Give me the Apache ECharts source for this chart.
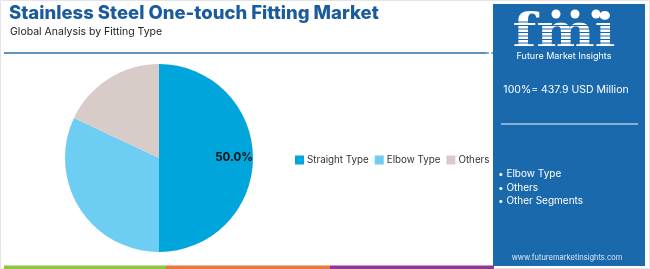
<!DOCTYPE html>
<html><head><meta charset="utf-8">
<script src="https://cdn.jsdelivr.net/npm/echarts@6/dist/echarts.min.js"></script>
<style>html,body{margin:0;padding:0;background:#fff}#c{width:650px;height:269px}</style>
</head><body><div id="c"></div>
<script>
const categories = ['Straight Type', 'Elbow Type', 'Others'];
const values = [50.0, 32.0, 18.0];
const colors = ['#00A5DC', '#6DCDF2', '#D7CCC8'];
const titleText = 'Stainless Steel One-touch Fitting Market';
const subtitleText = 'Global Analysis by Fitting Type';
const totalText = '100%= 437.9 USD Million';
const segments = ['Elbow Type', 'Others', 'Other Segments'];

const chart = echarts.init(document.getElementById('c'), null, {renderer: 'canvas'});
const panel = '#1B69AD';
const FONT = 'Inter, "Open Sans", sans-serif';

const stripes = [];
for (let y = 22; y <= 51; y += 3.5) {
  stripes.push({type: 'line', shape: {x1: 505, y1: y, x2: 630, y2: y}, style: {stroke: panel, lineWidth: 1.2}, z: 12});
}

const option = {
  animation: false,
  title: [
    {text: titleText, left: 9, top: 4, padding: 0, textStyle: {fontFamily: FONT, fontWeight: 800, fontSize: 18.5, color: '#1A5B9C'}},
    {text: subtitleText, left: 10, top: 26, padding: 0, textStyle: {fontFamily: FONT, fontWeight: 400, fontSize: 10.5, color: '#222'}}
  ],
  color: colors,
  legend: {
    data: categories, left: 295, top: 155, padding: 0, icon: 'rect', itemWidth: 9, itemHeight: 9, itemGap: 6,
    textStyle: {fontFamily: FONT, fontSize: 9.8, color: '#333', padding: [0, 0, 0, -2]}
  },
  series: [{
    type: 'pie', center: [159, 158], radius: [0, 94], startAngle: 90, clockwise: true,
    data: categories.map((n, i) => ({name: n, value: values[i]})),
    label: {
      show: true, position: 'inside', fontFamily: FONT, fontWeight: 700, fontSize: 11.5, color: '#111',
      padding: [0, 0, 0, 50],
      formatter: p => p.dataIndex === 0 ? p.value.toFixed(1) + '%' : ''
    },
    labelLine: {show: false},
    itemStyle: {borderWidth: 0},
    emphasis: {disabled: true}
  }],
  graphic: [
    {type: 'rect', shape: {x: 0.5, y: 0.5, width: 649, height: 268}, style: {fill: 'none', stroke: '#e4e4e4', lineWidth: 1}, z: 0},
    {type: 'line', shape: {x1: 4, y1: 53, x2: 486, y2: 53}, style: {stroke: '#5F94BC', lineWidth: 2}, z: 1},
    {type: 'line', shape: {x1: 486, y1: 53, x2: 493, y2: 53}, style: {stroke: '#5F94BC', lineWidth: 1.5, lineDash: [3, 2]}, z: 1},
    {type: 'rect', shape: {x: 4, y: 265.5, width: 162, height: 3.5}, style: {fill: '#8DC63F'}, z: 1},
    {type: 'rect', shape: {x: 166, y: 265.5, width: 164, height: 3.5}, style: {fill: '#E8773D'}, z: 1},
    {type: 'rect', shape: {x: 330, y: 265.5, width: 164, height: 3.5}, style: {fill: '#8B3A93'}, z: 1},
    {type: 'rect', shape: {x: 493, y: 4, width: 152, height: 262}, style: {fill: panel}, z: 10},
    {type: 'text', x: 564, y: 12, scaleX: 1.2, style: {text: 'fmi', font: 'bold 46px "DejaVu Serif", serif', fill: '#fff', textAlign: 'center', textVerticalAlign: 'top'}, z: 11},
    ...stripes,
    {type: 'circle', shape: {cx: 556, cy: 14, r: 4.5}, style: {fill: '#fff'}, z: 13},
    {type: 'circle', shape: {cx: 575, cy: 14, r: 4.5}, style: {fill: '#fff'}, z: 13},
    {type: 'circle', shape: {cx: 596, cy: 14, r: 4.5}, style: {fill: '#fff'}, z: 13},
    {type: 'text', x: 564, y: 56, style: {text: 'Future Market Insights', font: '9px ' + FONT, fill: '#fff', textAlign: 'center', textVerticalAlign: 'middle'}, z: 13},
    {type: 'text', x: 566, y: 90, style: {text: totalText, font: '10.5px ' + FONT, fill: '#fff', textAlign: 'center', textVerticalAlign: 'middle'}, z: 13},
    {type: 'line', shape: {x1: 501, y1: 124, x2: 638, y2: 124}, style: {stroke: '#A9C9E6', lineWidth: 1.5}, z: 13},
    ...segments.map((s, i) => ({type: 'text', x: 498, y: 174 + i * 13.5, style: {text: '\u2022 ' + s, font: '10px ' + FONT, fill: '#fff', textVerticalAlign: 'middle'}, z: 13})),
    {type: 'text', x: 567, y: 258, style: {text: 'www.futuremarketinsights.com', font: '7.5px ' + FONT, fill: '#DCE8F4', textAlign: 'center', textVerticalAlign: 'middle'}, z: 13}
  ]
};
chart.setOption(option);
</script>
</body></html>
